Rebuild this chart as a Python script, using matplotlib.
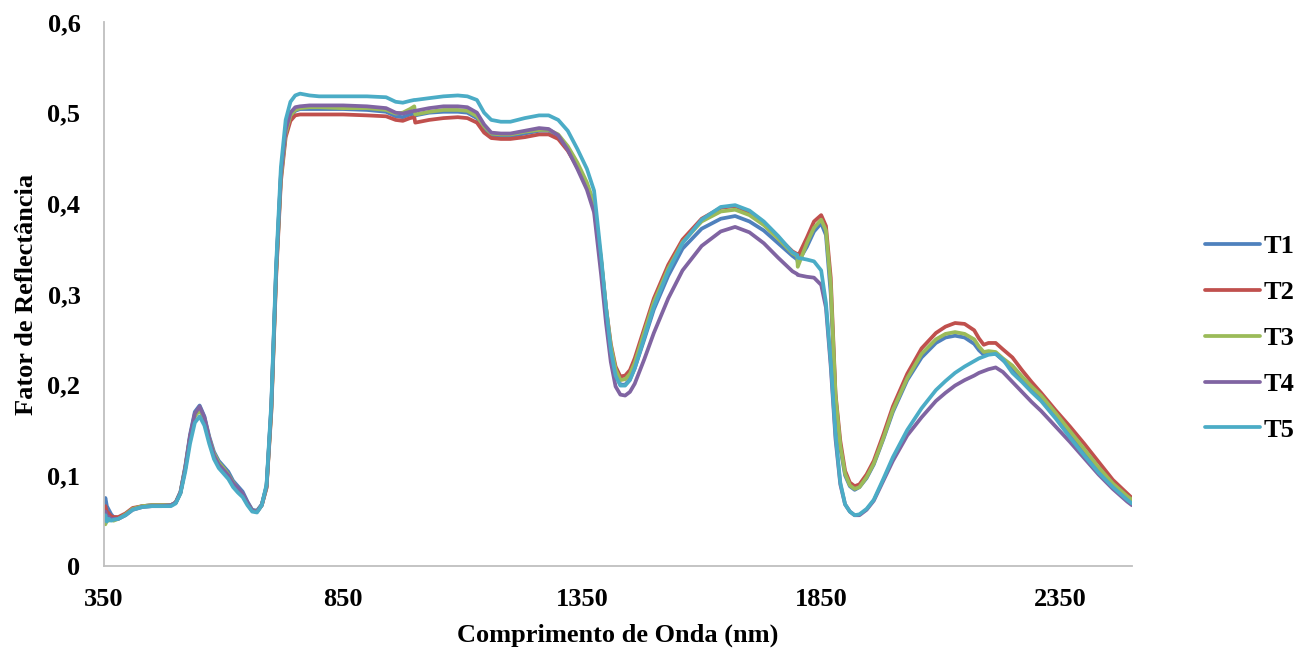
import matplotlib
matplotlib.use("Agg")
import matplotlib.pyplot as plt
from matplotlib.ticker import FuncFormatter

# wavelength grid (nm) and reflectance factor per treatment
wl = [350, 353, 356, 360, 365, 370, 380, 395, 410, 430, 450, 470, 490, 500, 510,
      520, 530, 540, 550, 560, 570, 580, 590, 600, 610, 620, 630, 640, 650, 660,
      670, 680, 690, 700, 710, 720, 730, 740, 750, 760, 780, 800, 850, 900, 940,
      960, 975, 990, 999, 1001, 1030, 1060, 1090, 1110, 1130, 1145, 1160, 1180, 1200, 1230,
      1260, 1280, 1300, 1320, 1340, 1360, 1375, 1390, 1400, 1410, 1420, 1430, 1440, 1450, 1460,
      1480, 1500, 1530, 1560, 1600, 1640, 1670, 1700, 1730, 1760, 1790, 1800, 1801, 1820, 1835,
      1850, 1860, 1870, 1880, 1890, 1900, 1910, 1920, 1930, 1945, 1960, 1980, 2000, 2030, 2060,
      2090, 2110, 2130, 2150, 2170, 2180, 2190, 2200, 2215, 2230, 2250, 2270, 2290, 2310, 2340,
      2370, 2400, 2430, 2460, 2490, 2500]

t1 = [0.070, 0.075, 0.066, 0.062, 0.057, 0.054, 0.053, 0.057, 0.063, 0.066, 0.067, 0.067, 0.067, 0.070, 0.082,
      0.110, 0.145, 0.170, 0.177, 0.165, 0.143, 0.126, 0.116, 0.110, 0.104, 0.094, 0.088, 0.082, 0.071, 0.062,
      0.061, 0.068, 0.088, 0.175, 0.325, 0.430, 0.478, 0.496, 0.502, 0.504, 0.504, 0.504, 0.504, 0.503, 0.501,
      0.496, 0.495, 0.498, 0.499, 0.497, 0.500, 0.501, 0.501, 0.500, 0.494, 0.482, 0.475, 0.474, 0.474, 0.477,
      0.480, 0.480, 0.474, 0.460, 0.440, 0.420, 0.398, 0.335, 0.280, 0.238, 0.212, 0.200, 0.200, 0.206, 0.218,
      0.250, 0.283, 0.320, 0.350, 0.372, 0.383, 0.386, 0.380, 0.370, 0.356, 0.342, 0.338, 0.335, 0.352, 0.369,
      0.378, 0.365, 0.300, 0.185, 0.130, 0.100, 0.088, 0.084, 0.087, 0.097, 0.112, 0.140, 0.170, 0.205, 0.230,
      0.246, 0.252, 0.254, 0.252, 0.245, 0.238, 0.233, 0.234, 0.234, 0.227, 0.218, 0.206, 0.195, 0.185, 0.166,
      0.146, 0.126, 0.106, 0.089, 0.075, 0.071]

t2 = [0.062, 0.066, 0.060, 0.058, 0.055, 0.054, 0.054, 0.058, 0.064, 0.066, 0.067, 0.067, 0.067, 0.070, 0.081,
      0.108, 0.142, 0.166, 0.173, 0.162, 0.140, 0.122, 0.112, 0.106, 0.100, 0.091, 0.085, 0.079, 0.069, 0.061,
      0.060, 0.067, 0.086, 0.170, 0.318, 0.424, 0.473, 0.491, 0.497, 0.498, 0.498, 0.498, 0.498, 0.497, 0.496,
      0.492, 0.491, 0.494, 0.495, 0.489, 0.492, 0.494, 0.495, 0.494, 0.489, 0.478, 0.472, 0.471, 0.471, 0.473,
      0.476, 0.476, 0.471, 0.458, 0.440, 0.418, 0.394, 0.335, 0.285, 0.245, 0.220, 0.209, 0.210, 0.216, 0.229,
      0.262, 0.295, 0.332, 0.360, 0.383, 0.395, 0.397, 0.390, 0.378, 0.362, 0.347, 0.344, 0.341, 0.362, 0.380,
      0.387, 0.375, 0.318, 0.190, 0.138, 0.105, 0.092, 0.088, 0.090, 0.101, 0.116, 0.145, 0.176, 0.212, 0.240,
      0.257, 0.264, 0.268, 0.267, 0.260, 0.251, 0.244, 0.246, 0.246, 0.239, 0.230, 0.216, 0.203, 0.191, 0.172,
      0.154, 0.135, 0.115, 0.095, 0.080, 0.075]

t3 = [0.055, 0.046, 0.052, 0.050, 0.051, 0.050, 0.052, 0.057, 0.063, 0.066, 0.067, 0.067, 0.067, 0.070, 0.081,
      0.108, 0.141, 0.165, 0.172, 0.162, 0.141, 0.124, 0.114, 0.108, 0.101, 0.092, 0.085, 0.079, 0.069, 0.061,
      0.060, 0.067, 0.087, 0.172, 0.322, 0.428, 0.477, 0.497, 0.503, 0.505, 0.506, 0.506, 0.505, 0.505, 0.503,
      0.499, 0.500, 0.504, 0.507, 0.498, 0.501, 0.503, 0.503, 0.502, 0.496, 0.485, 0.477, 0.476, 0.476, 0.479,
      0.481, 0.481, 0.476, 0.463, 0.445, 0.423, 0.400, 0.337, 0.285, 0.243, 0.217, 0.205, 0.206, 0.212, 0.224,
      0.258, 0.291, 0.328, 0.357, 0.380, 0.391, 0.393, 0.387, 0.376, 0.361, 0.345, 0.342, 0.330, 0.356, 0.373,
      0.382, 0.370, 0.310, 0.188, 0.133, 0.102, 0.089, 0.085, 0.087, 0.098, 0.113, 0.141, 0.172, 0.207, 0.234,
      0.250, 0.256, 0.258, 0.256, 0.250, 0.242, 0.236, 0.237, 0.236, 0.229, 0.221, 0.209, 0.198, 0.188, 0.169,
      0.149, 0.129, 0.109, 0.091, 0.077, 0.073]

t4 = [0.058, 0.060, 0.055, 0.054, 0.052, 0.052, 0.052, 0.056, 0.062, 0.065, 0.066, 0.066, 0.067, 0.070, 0.081,
      0.108, 0.143, 0.168, 0.176, 0.164, 0.141, 0.122, 0.112, 0.106, 0.100, 0.091, 0.086, 0.080, 0.070, 0.061,
      0.060, 0.067, 0.088, 0.176, 0.326, 0.432, 0.481, 0.500, 0.506, 0.507, 0.508, 0.508, 0.508, 0.507, 0.505,
      0.500, 0.499, 0.501, 0.502, 0.502, 0.505, 0.507, 0.507, 0.506, 0.500, 0.487, 0.478, 0.477, 0.477, 0.480,
      0.483, 0.482, 0.475, 0.459, 0.438, 0.415, 0.390, 0.320, 0.268, 0.225, 0.198, 0.189, 0.188, 0.192, 0.201,
      0.228, 0.257, 0.295, 0.326, 0.353, 0.369, 0.374, 0.368, 0.356, 0.340, 0.325, 0.322, 0.321, 0.319, 0.318,
      0.310, 0.285, 0.220, 0.140, 0.090, 0.068, 0.060, 0.056, 0.056, 0.062, 0.072, 0.094, 0.116, 0.144, 0.164,
      0.182, 0.191, 0.199, 0.205, 0.210, 0.213, 0.215, 0.217, 0.219, 0.214, 0.203, 0.192, 0.181, 0.171, 0.154,
      0.137, 0.119, 0.101, 0.085, 0.071, 0.067]

t5 = [0.050, 0.056, 0.049, 0.052, 0.050, 0.051, 0.052, 0.056, 0.062, 0.065, 0.066, 0.066, 0.066, 0.069, 0.080,
      0.104, 0.135, 0.158, 0.165, 0.155, 0.135, 0.118, 0.108, 0.102, 0.096, 0.087, 0.081, 0.076, 0.067, 0.060,
      0.059, 0.067, 0.090, 0.180, 0.332, 0.440, 0.492, 0.512, 0.519, 0.521, 0.519, 0.518, 0.518, 0.518, 0.517,
      0.512, 0.511, 0.513, 0.514, 0.514, 0.516, 0.518, 0.519, 0.518, 0.514, 0.500, 0.492, 0.490, 0.490, 0.494,
      0.497, 0.497, 0.492, 0.480, 0.460, 0.438, 0.414, 0.340, 0.285, 0.238, 0.210, 0.199, 0.199, 0.205, 0.218,
      0.252, 0.286, 0.325, 0.356, 0.382, 0.396, 0.398, 0.392, 0.380, 0.364, 0.346, 0.343, 0.340, 0.338, 0.336,
      0.326, 0.290, 0.225, 0.145, 0.092, 0.068, 0.060, 0.056, 0.057, 0.063, 0.073, 0.096, 0.120, 0.150, 0.174,
      0.194, 0.204, 0.213, 0.220, 0.226, 0.229, 0.231, 0.233, 0.234, 0.228, 0.213, 0.203, 0.192, 0.182, 0.163,
      0.142, 0.122, 0.103, 0.087, 0.073, 0.069]

series = ["T1", "T2", "T3", "T4", "T5"]
colors = ["#4F81BD", "#C0504D", "#9BBB59", "#8064A2", "#4BACC6"]

x_ticks = [350, 850, 1350, 1850, 2350]
y_ticks = [0, 0.1, 0.2, 0.3, 0.4, 0.5, 0.6]

plt.rcParams["font.family"] = ["Liberation Serif", "DejaVu Serif"]
plt.rcParams["font.weight"] = "bold"

fig = plt.figure(figsize=(12.95, 6.49), dpi=100)
ax = fig.add_axes([0.0803, 0.1279, 0.7938, 0.8382])

for name, vals, c in zip(series, [t1, t2, t3, t4, t5], colors):
    ax.plot(wl, vals, color=c, lw=2.7, label=name, solid_capstyle="round",
            solid_joinstyle="round")

ax.set_xlim(350, 2500)
ax.set_ylim(0, 0.6)
ax.set_xticks(x_ticks)
ax.set_yticks(y_ticks)
ax.yaxis.set_major_formatter(FuncFormatter(lambda v, p: "0" if v == 0 else f"{v:.1f}".replace(".", ",")))
ax.tick_params(length=0, labelsize=19)
ax.tick_params(axis="x", pad=16)
ax.tick_params(axis="y", pad=17)
for lab in ax.get_xticklabels() + ax.get_yticklabels():
    lab.set_fontweight("bold")

for s in ["top", "right"]:
    ax.spines[s].set_visible(False)
for s in ["left", "bottom"]:
    ax.spines[s].set_color("#BFBFBF")
    ax.spines[s].set_linewidth(1.3)

ax.set_xlabel("Comprimento de Onda (nm)", fontsize=19, fontweight="bold", labelpad=9)
ax.set_ylabel("Fator de Reflectância", fontsize=19, fontweight="bold", labelpad=7)

leg = ax.legend(loc="center left", bbox_to_anchor=(0.922, 0.479), bbox_transform=fig.transFigure,
                frameon=False, fontsize=19, handlelength=2.1, handletextpad=0.15,
                labelspacing=0.85, borderaxespad=0)
for t in leg.get_texts():
    t.set_fontweight("bold")

fig.savefig("out.png", dpi=100)
